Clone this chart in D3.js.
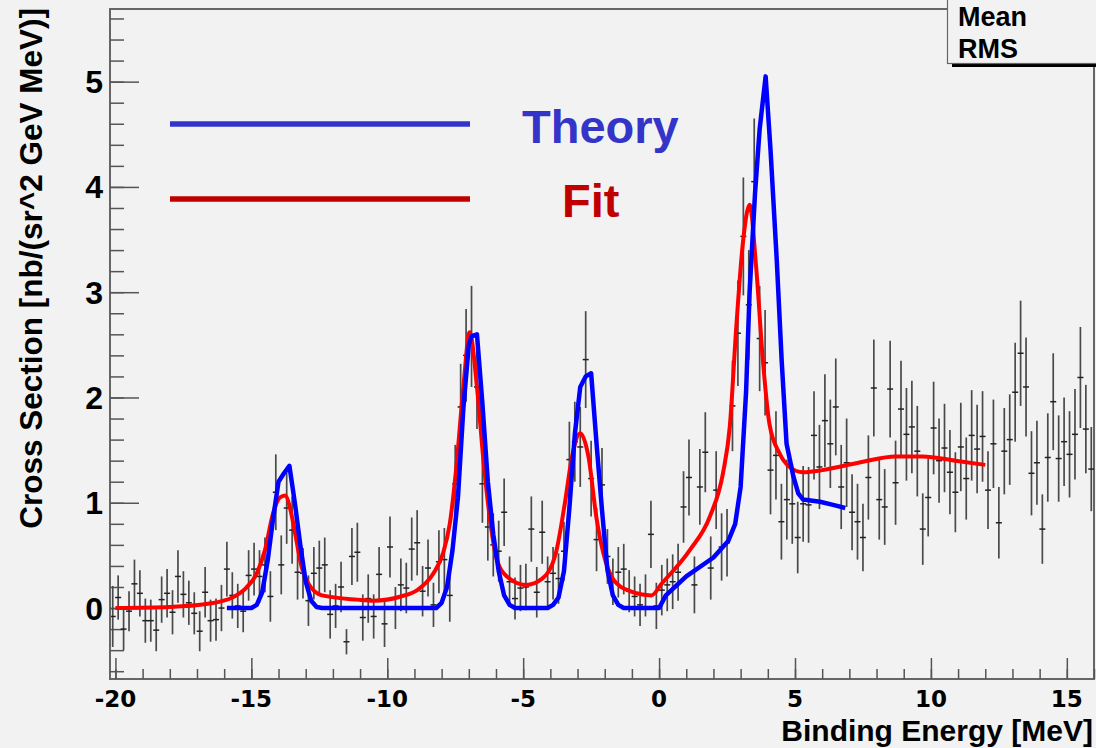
<!DOCTYPE html>
<html lang="en">

<head>
    <meta charset="UTF-8">
    <title>Binding Energy Spectrum</title>
    <script src="https://d3js.org/d3.v7.min.js"></script>
    <style>
        body {
            margin: 0;
            background-color: #f2f2f2;
        }

        svg {
            display: block;
            background-color: #f2f2f2;
        }
    </style>
</head>

<body>

    <svg width="1096" height="748" id="canvas"></svg>

    <script>
        // measured data (bin centers, cross section, error)
        const energy = [
            -20.1, -19.9, -19.7, -19.5, -19.3, -19.1, -18.9, -18.7, -18.5, -18.3,
            -18.1, -17.9, -17.7, -17.5, -17.3, -17.1, -16.9, -16.7, -16.5, -16.3,
            -16.1, -15.9, -15.7, -15.5, -15.3, -15.1, -14.9, -14.7, -14.5, -14.3,
            -14.1, -13.9, -13.7, -13.5, -13.3, -13.1, -12.9, -12.7, -12.5, -12.3,
            -12.1, -11.9, -11.7, -11.5, -11.3, -11.1, -10.9, -10.7, -10.5, -10.3,
            -10.1, -9.9, -9.7, -9.5, -9.3, -9.1, -8.9, -8.7, -8.5, -8.3,
            -8.1, -7.9, -7.7, -7.5, -7.3, -7.1, -6.9, -6.7, -6.5, -6.3,
            -6.1, -5.9, -5.7, -5.5, -5.3, -5.1, -4.9, -4.7, -4.5, -4.3,
            -4.1, -3.9, -3.7, -3.5, -3.3, -3.1, -2.9, -2.7, -2.5, -2.3,
            -2.1, -1.9, -1.7, -1.5, -1.3, -1.1, -0.9, -0.7, -0.5, -0.3,
            -0.1, 0.1, 0.3, 0.5, 0.7, 0.9, 1.1, 1.3, 1.5, 1.7,
            1.9, 2.1, 2.3, 2.5, 2.7, 2.9, 3.1, 3.3, 3.5, 3.7,
            3.9, 4.1, 4.3, 4.5, 4.7, 4.9, 5.1, 5.3, 5.5, 5.7,
            5.9, 6.1, 6.3, 6.5, 6.7, 6.9, 7.1, 7.3, 7.5, 7.7,
            7.9, 8.1, 8.3, 8.5, 8.7, 8.9, 9.1, 9.3, 9.5, 9.7,
            9.9, 10.1, 10.3, 10.5, 10.7, 10.9, 11.1, 11.3, 11.5, 11.7,
            11.9, 12.1, 12.3, 12.5, 12.7, 12.9, 13.1, 13.3, 13.5, 13.7,
            13.9, 14.1, 14.3, 14.5, 14.7, 14.9, 15.1, 15.3, 15.5, 15.7,
            15.9
        ];

        const xsec = [
            -0.08, 0.10, -0.20, -0.03, 0.23, 0.14, -0.12, -0.12, -0.21, 0.08,
            0.14, -0.04, 0.30, 0.13, 0.05, -0.05, -0.22, 0.15, -0.12, -0.11,
            0.00, 0.37, 0.12, 0.02, -0.03, 0.31, 0.37, 0.30, 0.41, 0.11,
            1.10, 0.41, 0.95, 0.74, 0.34, 0.33, 0.07, 0.33, 0.38, 0.41,
            -0.06, 0.02, 0.20, -0.32, 0.49, 0.53, -0.09, 0.09, -0.08, 0.32,
            -0.15, 0.58, 0.00, 0.22, 0.19, 0.56, 0.62, 0.16, 0.38, 0.03,
            0.44, 0.46, 0.12, 1.18, 1.91, 2.40, 2.58, 2.10, 1.18, 0.77,
            0.60, 0.54, 0.91, 0.25, 0.09, 0.19, 0.20, 0.75, 0.15, 0.72,
            0.25, 0.33, 0.28, 0.54, 1.41, 1.58, 1.53, 2.36, 1.23, 0.65,
            1.17, 0.49, 0.25, 0.34, 0.37, 0.16, 0.11, 0.03, 0.12, 0.70,
            0.02, 0.17, 0.22, 0.25, 0.34, 0.96, 1.24, 0.22, 1.15, 1.48,
            0.38, 1.12, 0.58, 0.62, 1.92, 2.61, 3.53, 2.88, 4.05, 2.56,
            2.33, 1.31, 1.45, 0.82, 1.03, 0.99, 0.67, 0.99, 0.98, 1.64,
            1.34, 1.78, 1.56, 1.91, 1.15, 1.38, 0.91, 0.82, 0.67, 1.24,
            2.09, 1.03, 0.96, 2.08, 1.19, 1.89, 1.65, 1.72, 1.49, 0.75,
            1.05, 1.71, 1.40, 1.52, 1.29, 1.10, 1.53, 1.23, 1.64, 1.51,
            1.63, 1.12, 1.56, 0.81, 1.49, 1.60, 2.05, 2.42, 2.10, 1.28,
            1.38, 0.75, 1.43, 1.96, 1.42, 1.58, 1.46, 1.65, 2.19, 1.70,
            1.32
        ];

        const xsecErr = [
            0.29, 0.21, 0.20, 0.19, 0.23, 0.22, 0.21, 0.20, 0.20, 0.22,
            0.23, 0.21, 0.25, 0.22, 0.21, 0.20, 0.19, 0.24, 0.20, 0.20,
            0.22, 0.26, 0.22, 0.21, 0.20, 0.24, 0.25, 0.25, 0.26, 0.24,
            0.36, 0.28, 0.34, 0.32, 0.26, 0.24, 0.24, 0.25, 0.26, 0.26,
            0.23, 0.21, 0.24, 0.12, 0.27, 0.28, 0.22, 0.23, 0.21, 0.26,
            0.22, 0.29, 0.20, 0.25, 0.24, 0.30, 0.31, 0.24, 0.27, 0.21,
            0.30, 0.30, 0.25, 0.37, 0.41, 0.44, 0.48, 0.40, 0.37, 0.32,
            0.30, 0.29, 0.32, 0.24, 0.20, 0.22, 0.22, 0.31, 0.24, 0.30,
            0.24, 0.25, 0.24, 0.28, 0.36, 0.38, 0.38, 0.46, 0.36, 0.30,
            0.35, 0.26, 0.22, 0.24, 0.24, 0.20, 0.19, 0.20, 0.20, 0.32,
            0.22, 0.24, 0.25, 0.26, 0.27, 0.34, 0.36, 0.27, 0.36, 0.38,
            0.30, 0.37, 0.32, 0.32, 0.43, 0.50, 0.56, 0.52, 0.60, 0.50,
            0.50, 0.42, 0.42, 0.36, 0.38, 0.38, 0.34, 0.36, 0.36, 0.42,
            0.40, 0.44, 0.42, 0.46, 0.40, 0.42, 0.36, 0.36, 0.32, 0.40,
            0.46, 0.38, 0.36, 0.46, 0.40, 0.46, 0.44, 0.44, 0.43, 0.34,
            0.37, 0.44, 0.40, 0.42, 0.40, 0.38, 0.42, 0.39, 0.43, 0.42,
            0.43, 0.37, 0.42, 0.34, 0.41, 0.43, 0.47, 0.50, 0.47, 0.40,
            0.40, 0.33, 0.42, 0.46, 0.41, 0.42, 0.41, 0.43, 0.48, 0.42,
            0.40
        ];

        // theory curve (blue)
        const theoryE = [
            -15.9, -15.0, -14.8, -14.6, -14.4, -14.2, -14.0, -13.8, -13.6, -13.4,
            -13.2, -13.0, -12.8, -12.6, -12.4,
            -8.2, -8.0, -7.8, -7.6, -7.4, -7.2, -7.0, -6.9, -6.7, -6.5,
            -6.3, -6.1, -5.9, -5.7, -5.5, -5.3,
            -4.1, -3.9, -3.7, -3.5, -3.3, -3.1, -2.9, -2.7, -2.5, -2.3,
            -2.1, -1.9, -1.7, -1.5, -1.3,
            0.0, 0.25, 1.0, 2.0, 2.55, 2.8, 3.0, 3.2, 3.33, 3.53,
            3.7, 3.92, 4.1, 4.33, 4.51, 4.69, 4.94, 5.12, 5.3, 5.92,
            6.4, 6.85
        ];
        const theoryXs = [
            0.0, 0.0, 0.03, 0.15, 0.45, 0.85, 1.20, 1.28, 1.35, 1.00,
            0.60, 0.25, 0.07, 0.01, 0.0,
            0.0, 0.05, 0.20, 0.55, 1.05, 1.90, 2.50, 2.58, 2.60, 1.94,
            1.20, 0.70, 0.35, 0.12, 0.03, 0.0,
            0.0, 0.03, 0.10, 0.35, 0.95, 1.65, 2.10, 2.20, 2.23, 1.56,
            0.93, 0.36, 0.12, 0.03, 0.0,
            0.0, 0.12, 0.30, 0.48, 0.64, 0.80, 1.15, 2.05, 3.00, 3.94,
            4.55, 5.05, 4.35, 3.30, 2.35, 1.56, 1.25, 1.09, 1.03, 1.01,
            0.98, 0.95
        ];

        // fit curve (red)
        const fitE = [
            -20.0, -18.0, -16.6, -15.7, -15.2, -14.8, -14.5, -14.2, -13.95, -13.76,
            -13.55, -13.39, -13.15, -12.9, -12.4, -11.1, -10.5, -9.5, -8.9, -8.3,
            -7.95, -7.7, -7.47, -7.2, -6.97, -6.7, -6.45, -6.2, -6.0, -5.6,
            -4.9, -4.3, -3.8, -3.47, -3.2, -2.9, -2.6, -2.3, -2.05, -1.68,
            -1.07, -0.28, 0.09, 1.13, 1.87, 2.35, 2.6, 2.84, 3.08, 3.33,
            3.57, 3.82, 4.06, 4.43, 4.8, 5.3, 6.0, 6.6, 7.5, 8.7,
            9.7, 10.9, 12.0
        ];
        const fitXs = [
            0.0, 0.01, 0.04, 0.10, 0.19, 0.33, 0.55, 0.90, 1.05, 1.07,
            0.92, 0.71, 0.39, 0.23, 0.12, 0.08, 0.07, 0.11, 0.17, 0.33,
            0.52, 0.80, 1.31, 2.10, 2.62, 2.10, 1.37, 0.80, 0.49, 0.30,
            0.22, 0.28, 0.52, 0.99, 1.44, 1.66, 1.44, 0.85, 0.52, 0.27,
            0.16, 0.12, 0.23, 0.55, 0.87, 1.28, 1.72, 2.67, 3.46, 3.83,
            3.24, 2.35, 1.75, 1.47, 1.34, 1.29, 1.31, 1.34, 1.39, 1.44,
            1.44, 1.40, 1.36
        ];

        const xMajor = [-20, -15, -10, -5, 0, 5, 10, 15];
        const yMajor = [0, 1, 2, 3, 4, 5];

        const svg = d3.select("#canvas");

        const frame = { left: 110, right: 1094, top: 9, bottom: 679 };

        const x = d3.scaleLinear().domain([-20.2, 16.0]).range([frame.left, frame.right]);
        const y = d3.scaleLinear().domain([-0.674, 5.69]).range([frame.bottom, frame.top]);

        svg.append("defs").append("clipPath").attr("id", "plotClip")
            .append("rect")
            .attr("x", frame.left + 1)
            .attr("y", frame.top)
            .attr("width", frame.right - frame.left - 1)
            .attr("height", frame.bottom - frame.top);

        // frame
        svg.append("rect")
            .attr("x", frame.left)
            .attr("y", frame.top)
            .attr("width", frame.right - frame.left)
            .attr("height", frame.bottom - frame.top)
            .attr("fill", "none")
            .attr("stroke", "#666")
            .attr("stroke-width", 2);

        // x axis ticks (drawn inside, pointing up)
        const xMinor = d3.range(-20, 17, 1);
        const xAxis = svg.append("g")
            .attr("transform", `translate(0,${frame.bottom})`)
            .call(d3.axisTop(x).tickValues(xMinor).tickSize(10).tickFormat(""));
        xAxis.select(".domain").remove();
        xAxis.selectAll("line").attr("stroke", "#555").attr("stroke-width", 1.5);

        const xAxisMajor = svg.append("g")
            .attr("transform", `translate(0,${frame.bottom})`)
            .call(d3.axisTop(x).tickValues(xMajor).tickSize(21).tickFormat(""));
        xAxisMajor.select(".domain").remove();
        xAxisMajor.selectAll("line").attr("stroke", "#555").attr("stroke-width", 1.5);

        svg.selectAll(".xlabel")
            .data(xMajor)
            .enter()
            .append("text")
            .attr("x", d => x(d))
            .attr("y", 707)
            .attr("text-anchor", "middle")
            .attr("font-family", "DejaVu Sans")
            .attr("font-weight", "bold")
            .attr("font-size", 23)
            .text(d => d);

        // y axis ticks (inside, pointing right)
        const yMinor = d3.range(-6, 57, 1).map(d => d / 10).filter((d, i) => i % 2 === 0);
        const yAxis = svg.append("g")
            .attr("transform", `translate(${frame.left},0)`)
            .call(d3.axisRight(y).tickValues(yMinor).tickSize(14).tickFormat(""));
        yAxis.select(".domain").remove();
        yAxis.selectAll("line").attr("stroke", "#555").attr("stroke-width", 1.5);

        const yAxisMajor = svg.append("g")
            .attr("transform", `translate(${frame.left},0)`)
            .call(d3.axisRight(y).tickValues(yMajor).tickSize(29).tickFormat(""));
        yAxisMajor.select(".domain").remove();
        yAxisMajor.selectAll("line").attr("stroke", "#555").attr("stroke-width", 1.5);

        svg.selectAll(".ylabel")
            .data(yMajor)
            .enter()
            .append("text")
            .attr("x", 103)
            .attr("y", d => y(d))
            .attr("dy", "0.36em")
            .attr("text-anchor", "end")
            .attr("font-family", "Liberation Sans, Arial")
            .attr("font-weight", "bold")
            .attr("font-size", 32)
            .text(d => d);

        // axis titles
        svg.append("text")
            .attr("x", 1093)
            .attr("y", 741)
            .attr("text-anchor", "end")
            .attr("font-family", "Liberation Sans, Arial")
            .attr("font-weight", "bold")
            .attr("font-size", 30)
            .text("Binding Energy [MeV]");

        svg.append("text")
            .attr("transform", "translate(42,8) rotate(-90)")
            .attr("text-anchor", "end")
            .attr("font-family", "Liberation Sans, Arial")
            .attr("font-weight", "bold")
            .attr("font-size", 31.5)
            .text("Cross Section [nb/(sr^2 GeV MeV)]");

        // data points with error bars
        const plot = svg.append("g").attr("clip-path", "url(#plotClip)");

        const points = energy.map((e, i) => ({ e: e, v: xsec[i], err: xsecErr[i] }));

        plot.selectAll(".ebar")
            .data(points)
            .enter()
            .append("line")
            .attr("x1", d => x(d.e))
            .attr("x2", d => x(d.e))
            .attr("y1", d => y(d.v - d.err))
            .attr("y2", d => y(d.v + d.err))
            .attr("stroke", "#4a4a4a")
            .attr("stroke-width", 1.7);

        plot.selectAll(".mark")
            .data(points)
            .enter()
            .append("line")
            .attr("x1", d => x(d.e) - 3)
            .attr("x2", d => x(d.e) + 3)
            .attr("y1", d => y(d.v))
            .attr("y2", d => y(d.v))
            .attr("stroke", "#222")
            .attr("stroke-width", 1.5);

        // curves
        const theoryLine = d3.line()
            .x(d => x(d[0]))
            .y(d => y(d[1]));

        const fitLine = d3.line()
            .x(d => x(d[0]))
            .y(d => y(d[1]))
            .curve(d3.curveMonotoneX);

        plot.append("path")
            .datum(fitE.map((e, i) => [e, fitXs[i]]))
            .attr("d", fitLine)
            .attr("fill", "none")
            .attr("stroke", "#ff0000")
            .attr("stroke-width", 4);

        plot.append("path")
            .datum(theoryE.map((e, i) => [e, theoryXs[i]]))
            .attr("d", theoryLine)
            .attr("fill", "none")
            .attr("stroke", "#0000ff")
            .attr("stroke-width", 4.5)
            .attr("stroke-linejoin", "round");

        // legend
        svg.append("line")
            .attr("x1", 170).attr("x2", 470)
            .attr("y1", 124).attr("y2", 124)
            .attr("stroke", "#3333cc")
            .attr("stroke-width", 5.5);

        svg.append("line")
            .attr("x1", 170).attr("x2", 470)
            .attr("y1", 199).attr("y2", 199)
            .attr("stroke", "#c00000")
            .attr("stroke-width", 5.5);

        svg.append("text")
            .attr("x", 522)
            .attr("y", 143)
            .attr("font-family", "Liberation Sans, Arial")
            .attr("font-weight", "bold")
            .attr("font-size", 47)
            .attr("fill", "#3434c8")
            .text("Theory");

        svg.append("text")
            .attr("x", 562)
            .attr("y", 217)
            .attr("font-family", "Liberation Sans, Arial")
            .attr("font-weight", "bold")
            .attr("font-size", 47)
            .attr("fill", "#c00000")
            .text("Fit");

        // stats box (cut off at the top right)
        svg.append("rect")
            .attr("x", 952)
            .attr("y", -10)
            .attr("width", 160)
            .attr("height", 77)
            .attr("fill", "#000");

        svg.append("rect")
            .attr("x", 947.5)
            .attr("y", -10)
            .attr("width", 160)
            .attr("height", 73.5)
            .attr("fill", "#f2f2f2")
            .attr("stroke", "#666")
            .attr("stroke-width", 1.2);

        svg.append("text")
            .attr("x", 958)
            .attr("y", 26)
            .attr("font-family", "Liberation Sans, Arial")
            .attr("font-weight", "bold")
            .attr("font-size", 27)
            .text("Mean");

        svg.append("text")
            .attr("x", 958)
            .attr("y", 58)
            .attr("font-family", "Liberation Sans, Arial")
            .attr("font-weight", "bold")
            .attr("font-size", 27)
            .text("RMS");
    </script>

</body>

</html>
